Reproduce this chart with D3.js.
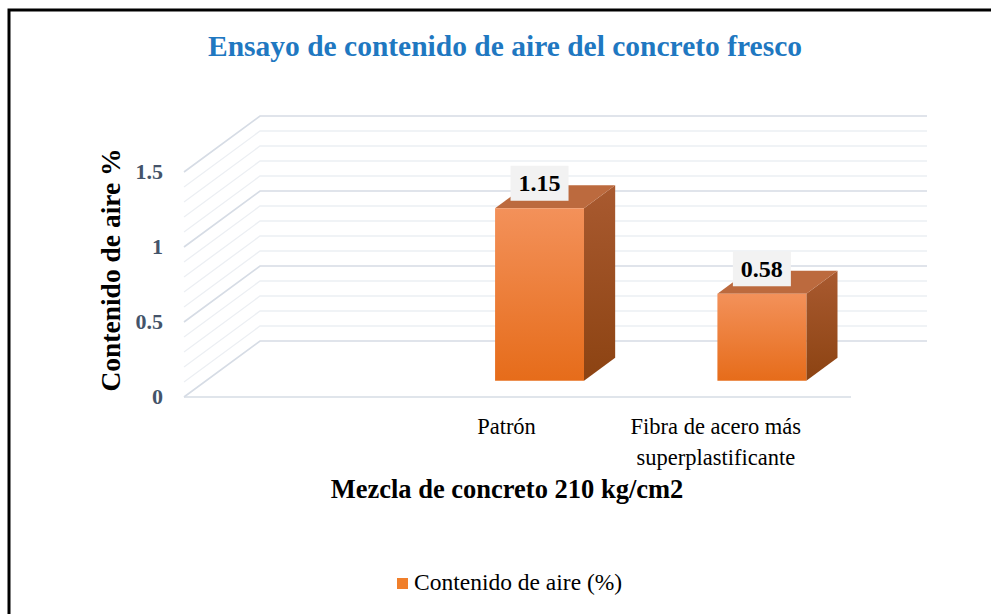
<!DOCTYPE html>
<html><head><meta charset="utf-8">
<script src="https://cdn.jsdelivr.net/npm/d3@7"></script>
<style>html,body{margin:0;padding:0;background:#fff;}svg{display:block;}</style>
</head><body>
<script>
const categories = ["", "Patrón", "Fibra de acero más superplastificante"];
const categoryLines = [[""], ["Patrón"], ["Fibra de acero más", "superplastificante"]];
const values = [null, 1.15, 0.58];
const yTicks = [0, 0.5, 1, 1.5];
const minorStep = 0.1;
const seriesName = "Contenido de aire (%)";
const titleText = "Ensayo de contenido de aire del concreto fresco";
const yTitle = "Contenido de aire %";
const xTitle = "Mezcla de concreto 210 kg/cm2";

const W = 991, H = 614;
const svg = d3.select("body").append("svg").attr("width", W).attr("height", H);
const FONT = "'Liberation Serif','Times New Roman',serif";

// frame
svg.append("rect").attr("x", 9).attr("y", 10).attr("width", 1100).attr("height", 800)
  .attr("fill", "#fff").attr("stroke", "#000").attr("stroke-width", 3);

// projection
const DX = 76, DY = -56;
const x = d3.scaleBand().domain(categories).range([184, 851]).paddingInner(0).paddingOuter(0);
const y = d3.scaleLinear().domain([0, 1.5]).range([397, 172]);
const P = (px, py, d) => [px + d * DX, py + d * DY];

// gradients
const defs = svg.append("defs");
function grad(id, c1, c2) {
  const g = defs.append("linearGradient").attr("id", id).attr("x1", 0).attr("y1", 0).attr("x2", 0).attr("y2", 1);
  g.append("stop").attr("offset", "0%").attr("stop-color", c1);
  g.append("stop").attr("offset", "100%").attr("stop-color", c2);
}
grad("gFront", "#F3915A", "#E66C1A");
grad("gSide", "#A95A30", "#8C4312");

// gridlines
const gridVals = d3.range(0, 1.5 + 1e-9, minorStep).map(v => +v.toFixed(2));
const gridG = svg.append("g");
const x0 = x.range()[0], x1 = x.range()[1];
gridVals.forEach(v => {
  const major = yTicks.some(t => Math.abs(t - v) < 1e-6);
  const col = major ? "#D6DCE5" : "#ECEFF3";
  const a = P(x0, y(v), 0), b = P(x0, y(v), 1), c = P(x1, y(v), 1);
  gridG.append("path").attr("d", d3.line()([a, b, c])).attr("fill", "none")
    .attr("stroke", col).attr("stroke-width", major ? 1.6 : 1.3);
});
// floor front edge
gridG.append("line").attr("x1", x0).attr("x2", x1).attr("y1", y(0)).attr("y2", y(0))
  .attr("stroke", "#D6DCE5").attr("stroke-width", 1.6);

// bars
const dA = 0.29, dB = 0.70;
const barFrac = 0.4;
const barsG = svg.append("g");
categories.forEach((c, i) => {
  const v = values[i];
  if (v == null) return;
  const cx = x(c) + x.bandwidth() / 2;
  const bw = x.bandwidth() * barFrac;
  const xl = cx - bw / 2, xr = cx + bw / 2;
  const yb = y(0), yt = y(v);
  const fl = P(xl, yt, dA), fr = P(xr, yt, dA), frb = P(xr, yb, dA), flb = P(xl, yb, dA);
  const bl = P(xl, yt, dB), br = P(xr, yt, dB), brb = P(xr, yb, dB);
  barsG.append("path").attr("d", d3.line()([fr, br, brb, frb]) + "Z").attr("fill", "url(#gSide)");
  barsG.append("path").attr("d", d3.line()([fl, bl, br, fr]) + "Z").attr("fill", "#BC6A3E");
  barsG.append("path").attr("d", d3.line()([fl, fr, frb, flb]) + "Z").attr("fill", "url(#gFront)");
  // data label
  const lx = (fl[0] + fr[0]) / 2, ly = fl[1] - 25;
  barsG.append("rect").attr("x", lx - 29).attr("y", ly - 17.5).attr("width", 58).attr("height", 35)
    .attr("fill", "#F2F2F2");
  barsG.append("text").attr("x", lx).attr("y", ly + 8).attr("text-anchor", "middle")
    .attr("font-family", FONT).attr("font-weight", "bold").attr("font-size", 24).attr("fill", "#000")
    .text(d3.format(".2f")(v));
});

// y tick labels
svg.append("g").selectAll("text").data(yTicks).join("text")
  .attr("x", 163).attr("y", d => y(d) + 7).attr("text-anchor", "end")
  .attr("font-family", FONT).attr("font-weight", "bold").attr("font-size", 22).attr("fill", "#44546A")
  .text(d => d3.format("~g")(d));

// category labels
const labG = svg.append("g");
categories.forEach((c, i) => {
  const cx = x(c) + x.bandwidth() / 2 - 11 - (categoryLines[i].length > 1 ? 13 : 0);
  const t = labG.append("text").attr("text-anchor", "middle").attr("font-family", FONT)
    .attr("font-size", 22.5).attr("fill", "#000");
  categoryLines[i].forEach((ln, k) => {
    t.append("tspan").attr("x", cx).attr("y", 434 + k * 31).text(ln);
  });
});

// titles
svg.append("text").attr("x", 505).attr("y", 56).attr("text-anchor", "middle")
  .attr("font-family", FONT).attr("font-weight", "bold").attr("font-size", 29.5).attr("fill", "#1F78C1")
  .text(titleText);
svg.append("text").attr("x", 507).attr("y", 498).attr("text-anchor", "middle")
  .attr("font-family", FONT).attr("font-weight", "bold").attr("font-size", 26.5).attr("fill", "#000")
  .text(xTitle);
svg.append("text").attr("transform", "translate(120,270) rotate(-90)").attr("text-anchor", "middle")
  .attr("font-family", FONT).attr("font-weight", "bold").attr("font-size", 27.5).attr("fill", "#000")
  .text(yTitle);

// legend
svg.append("rect").attr("x", 397).attr("y", 578).attr("width", 11).attr("height", 11).attr("fill", "#F07F2B");
svg.append("text").attr("x", 414).attr("y", 590).attr("font-family", FONT).attr("font-size", 23.5)
  .attr("fill", "#000").text(seriesName);
</script>
</body></html>
